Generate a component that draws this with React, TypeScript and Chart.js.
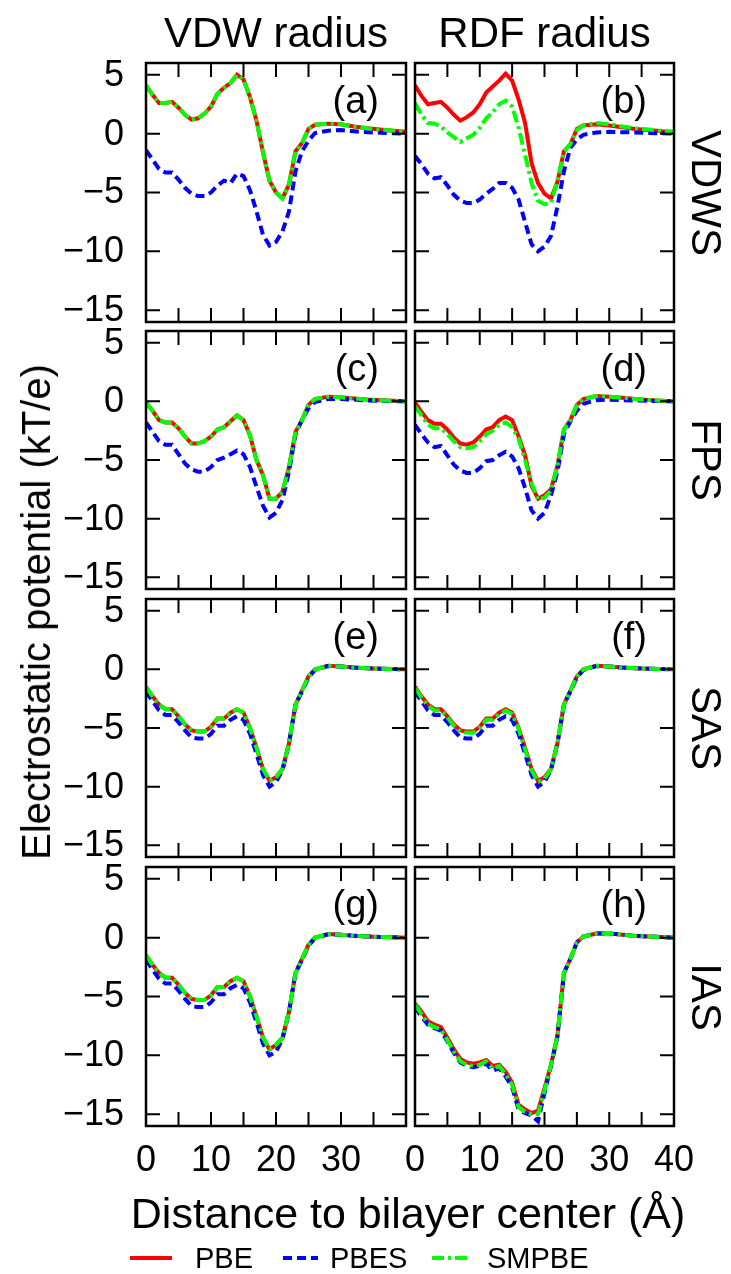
import React, { useEffect, useRef } from "react";
import { Chart, registerables } from "chart.js";

Chart.register(...registerables);

// ---------------- data ----------------
const X = [0, 1, 2, 3, 4, 5, 6, 7, 8, 9, 10, 11, 12, 13, 14, 15, 16, 17, 18, 19, 20, 21, 22, 23, 24, 25, 26, 28, 30, 32, 34, 36, 38, 40];

const A_PBE = [4.1, 3.3, 2.6, 2.6, 2.7, 2.2, 1.6, 1.2, 1.3, 1.7, 2.3, 3.4, 3.9, 4.3, 5.0, 4.6, 3.1, 1.1, -1.6, -4.0, -5.0, -5.5, -4.3, -1.5, -0.8, 0.4, 0.75, 0.85, 0.8, 0.6, 0.45, 0.35, 0.25, 0.15];
const A_PBES = [-1.4, -2.2, -3.0, -3.3, -3.3, -3.9, -4.6, -5.1, -5.3, -5.3, -5.0, -4.4, -4.0, -4.2, -3.4, -3.6, -4.8, -6.6, -8.6, -9.5, -9.2, -8.3, -6.6, -3.2, -1.5, -0.6, 0.05, 0.25, 0.3, 0.2, 0.12, 0.08, 0.04, 0.0];
const A_SMPBE = [4.1, 3.3, 2.6, 2.6, 2.7, 2.2, 1.6, 1.2, 1.3, 1.7, 2.3, 3.4, 3.9, 4.3, 5.0, 4.6, 3.1, 1.1, -1.6, -4.0, -5.0, -5.5, -4.3, -1.5, -0.8, 0.4, 0.75, 0.85, 0.8, 0.6, 0.45, 0.35, 0.25, 0.15];

const B_PBE = [4.1, 3.2, 2.5, 2.6, 2.7, 2.2, 1.6, 1.1, 1.4, 1.8, 2.5, 3.5, 4.0, 4.5, 5.1, 4.5, 2.9, 0.9, -2.5, -4.2, -5.1, -5.5, -4.1, -1.5, -0.9, 0.4, 0.7, 0.8, 0.7, 0.55, 0.4, 0.3, 0.2, 0.1];
const B_PBES = [-1.9, -2.6, -3.4, -3.8, -3.7, -4.4, -5.2, -5.7, -5.9, -5.9, -5.6, -5.1, -4.7, -4.2, -4.2, -4.6, -5.6, -7.5, -9.4, -10.0, -9.6, -8.7, -6.2, -3.2, -1.2, -0.5, -0.1, 0.1, 0.15, 0.12, 0.1, 0.06, 0.03, 0.0];
const B_SMPBE = [2.6, 1.6, 0.9, 0.85, 0.6, 0.1, -0.3, -0.7, -0.4, -0.1, 0.5, 1.3, 1.8, 2.5, 2.8, 2.3, 0.5, -1.8, -4.2, -5.7, -6.0, -5.9, -4.0, -1.5, -0.9, 0.3, 0.7, 0.9, 0.8, 0.6, 0.45, 0.35, 0.25, 0.15];

const C_PBE = [-0.1, -0.8, -1.6, -1.8, -1.8, -2.3, -3.0, -3.6, -3.6, -3.4, -3.0, -2.4, -2.2, -1.7, -1.2, -1.6, -2.9, -5.0, -6.3, -8.3, -8.3, -7.7, -5.6, -2.6, -1.6, -0.3, 0.2, 0.4, 0.35, 0.25, 0.15, 0.1, 0.05, 0.0];
const C_PBES = [-1.8, -2.6, -3.4, -3.7, -3.7, -4.5, -5.3, -5.8, -6.0, -6.0, -5.6, -5.0, -4.8, -4.5, -4.2, -4.5, -5.6, -7.3, -8.9, -9.9, -9.5, -8.4, -6.0, -2.8, -1.6, -0.6, -0.05, 0.2, 0.2, 0.15, 0.08, 0.05, 0.02, 0.0];
const C_SMPBE = [-0.1, -0.8, -1.6, -1.8, -1.8, -2.3, -3.0, -3.6, -3.6, -3.4, -3.0, -2.4, -2.2, -1.7, -1.2, -1.6, -2.9, -5.0, -6.3, -8.3, -8.3, -7.7, -5.6, -2.6, -1.6, -0.3, 0.2, 0.4, 0.35, 0.25, 0.15, 0.1, 0.05, 0.0];

const D_PBE = [-0.1, -0.9, -1.6, -1.9, -1.9, -2.4, -3.1, -3.6, -3.7, -3.5, -3.0, -2.4, -2.2, -1.6, -1.3, -1.6, -3.0, -4.6, -7.2, -8.3, -8.0, -7.5, -5.5, -2.4, -1.6, -0.3, 0.2, 0.45, 0.4, 0.3, 0.2, 0.12, 0.06, 0.0];
const D_PBES = [-2.0, -2.8, -3.5, -3.9, -3.8, -4.6, -5.4, -5.9, -6.1, -6.1, -5.7, -5.1, -5.0, -4.6, -4.3, -4.7, -5.7, -7.4, -9.3, -10.0, -9.5, -8.0, -6.0, -2.8, -1.7, -0.8, -0.2, 0.1, 0.15, 0.1, 0.08, 0.05, 0.02, 0.0];
const D_SMPBE = [-0.4, -1.2, -2.0, -2.3, -2.3, -2.8, -3.4, -3.9, -4.0, -3.9, -3.4, -2.8, -2.5, -2.0, -1.8, -2.2, -3.2, -5.0, -7.0, -8.4, -8.2, -7.6, -5.5, -2.4, -1.6, -0.3, 0.2, 0.45, 0.4, 0.3, 0.2, 0.12, 0.06, 0.0];

const E_PBE = [-1.5, -2.3, -3.0, -3.4, -3.4, -4.0, -4.7, -5.2, -5.3, -5.3, -4.9, -4.2, -4.2, -3.7, -3.4, -3.7, -5.0, -6.7, -8.5, -9.5, -9.2, -8.5, -6.3, -3.0, -1.8, -0.6, 0.0, 0.3, 0.25, 0.15, 0.1, 0.06, 0.03, 0.0];
const E_PBES = [-1.9, -2.7, -3.5, -3.9, -3.9, -4.5, -5.2, -5.8, -5.9, -5.9, -5.5, -4.8, -4.8, -4.3, -4.0, -4.3, -5.5, -7.2, -9.0, -10.0, -9.6, -8.6, -6.3, -3.0, -1.9, -0.7, -0.05, 0.28, 0.25, 0.15, 0.1, 0.06, 0.03, 0.0];
const E_SMPBE = [-1.5, -2.3, -3.0, -3.4, -3.4, -4.0, -4.7, -5.2, -5.3, -5.3, -4.9, -4.2, -4.2, -3.7, -3.4, -3.7, -5.0, -6.7, -8.5, -9.5, -9.2, -8.5, -6.3, -3.0, -1.8, -0.6, 0.0, 0.3, 0.25, 0.15, 0.1, 0.06, 0.03, 0.0];

const F_PBE = [-1.5, -2.3, -3.0, -3.4, -3.4, -4.0, -4.7, -5.2, -5.3, -5.3, -4.9, -4.2, -4.2, -3.7, -3.4, -3.7, -5.0, -6.7, -8.5, -9.5, -9.2, -8.5, -6.3, -3.0, -1.8, -0.6, 0.0, 0.3, 0.25, 0.15, 0.1, 0.06, 0.03, 0.0];
const F_PBES = [-1.9, -2.7, -3.5, -3.9, -3.9, -4.5, -5.2, -5.8, -5.9, -5.9, -5.5, -4.8, -4.8, -4.3, -4.0, -4.3, -5.5, -7.2, -9.0, -10.0, -9.6, -8.6, -6.3, -3.0, -1.9, -0.7, -0.05, 0.28, 0.25, 0.15, 0.1, 0.06, 0.03, 0.0];
const F_SMPBE = [-1.6, -2.4, -3.1, -3.5, -3.5, -4.1, -4.8, -5.3, -5.4, -5.4, -5.0, -4.3, -4.3, -3.8, -3.5, -3.8, -5.1, -6.8, -8.6, -9.6, -9.3, -8.5, -6.3, -3.0, -1.8, -0.6, 0.0, 0.3, 0.25, 0.15, 0.1, 0.06, 0.03, 0.0];

const G_PBE = [-1.5, -2.3, -3.0, -3.4, -3.4, -4.0, -4.7, -5.2, -5.3, -5.3, -4.9, -4.2, -4.2, -3.7, -3.4, -3.7, -5.0, -6.7, -8.5, -9.5, -9.1, -8.5, -6.3, -3.0, -1.8, -0.6, 0.0, 0.3, 0.25, 0.15, 0.1, 0.06, 0.03, 0.0];
const G_PBES = [-1.9, -2.7, -3.5, -3.9, -3.9, -4.5, -5.2, -5.8, -5.9, -5.9, -5.5, -4.8, -4.8, -4.3, -4.0, -4.3, -5.5, -7.2, -9.0, -10.0, -9.7, -8.6, -6.3, -3.0, -1.9, -0.7, -0.05, 0.28, 0.25, 0.15, 0.1, 0.06, 0.03, 0.0];
const G_SMPBE = [-1.5, -2.3, -3.0, -3.4, -3.4, -4.0, -4.7, -5.2, -5.3, -5.3, -4.9, -4.2, -4.2, -3.7, -3.4, -3.7, -5.0, -6.7, -8.5, -9.5, -9.1, -8.5, -6.3, -3.0, -1.8, -0.6, 0.0, 0.3, 0.25, 0.15, 0.1, 0.06, 0.03, 0.0];

const H_PBE = [-5.6, -6.3, -7.1, -7.4, -7.6, -8.5, -9.5, -10.3, -10.6, -10.7, -10.6, -10.4, -10.9, -10.8, -11.4, -12.3, -14.2, -14.6, -14.9, -14.7, -12.8, -10.8, -8.3, -3.0, -1.8, -0.4, 0.1, 0.35, 0.35, 0.25, 0.15, 0.1, 0.05, 0.0];
const H_PBES = [-5.9, -6.7, -7.4, -7.7, -7.9, -8.8, -9.8, -10.6, -10.9, -11.0, -10.9, -10.7, -11.3, -11.1, -11.8, -12.7, -14.6, -14.9, -15.1, -15.6, -13.2, -10.9, -8.4, -3.0, -1.8, -0.4, 0.1, 0.35, 0.35, 0.25, 0.15, 0.1, 0.05, 0.0];
const H_SMPBE = [-5.7, -6.5, -7.3, -7.6, -7.8, -8.7, -9.7, -10.5, -10.8, -10.9, -10.8, -10.5, -11.1, -10.9, -11.6, -12.5, -14.4, -14.8, -15.0, -15.0, -13.0, -10.8, -8.3, -3.0, -1.8, -0.4, 0.1, 0.35, 0.35, 0.25, 0.15, 0.1, 0.05, 0.0];

const SERIES_NAMES = ["PBE", "PBES", "SMPBE"];
const PANEL_TAGS = ["(a)", "(b)", "(c)", "(d)", "(e)", "(f)", "(g)", "(h)"];
const COL_TITLES = ["VDW radius", "RDF radius"];
const ROW_TITLES = ["VDWS", "FPS", "SAS", "IAS"];
const X_TITLE = "Distance to bilayer center (Å)";
const Y_TITLE = "Electrostatic potential (kT/e)";

const X_MIN = 0;
const X_MAX = 40;
const Y_MIN = -16;
const Y_MAX = 6;
const X_TICKS = [0, 5, 10, 15, 20, 25, 30, 35, 40];
const X_TICK_LABELS_LEFT = ["0", "", "10", "", "20", "", "30", "", ""];
const X_TICK_LABELS_RIGHT = ["0", "", "10", "", "20", "", "30", "", "40"];
const Y_TICKS = [-15, -10, -5, 0, 5];
const Y_TICK_LABELS = ["\u221215", "\u221210", "\u22125", "0", "5"];

// ---------------- styles / layout ----------------
const W = 731;
const H = 1274;
const FONT = '"Liberation Sans", Arial, Helvetica, sans-serif';
const COL_L = [146, 415];
const COL_R = [406, 674];
const ROW_T = [63, 331, 599, 867];
const ROW_B = [322, 589, 857, 1126];
const TICK_LEN = 14;
const TICK_FONT = 36;
const TAG_FONT = 38;
const TITLE_FONT = 42;
const LEGEND_FONT = 29;

const SERIES_STYLE = [
  { color: "#ff0000", dash: [] as number[], order: 3 },
  { color: "#0000ff", dash: [9, 5], order: 2 },
  { color: "#00ff00", dash: [12, 4, 3, 4], order: 1 },
];

// legend sample placement (line start, line end, text start)
const LEGEND_LINE_X0 = [130, 283, 432];
const LEGEND_LINE_X1 = [172, 318, 468];
const LEGEND_TEXT_X = [195, 330, 487];

const PANEL_DATA = [
  [A_PBE, A_PBES, A_SMPBE],
  [B_PBE, B_PBES, B_SMPBE],
  [C_PBE, C_PBES, C_SMPBE],
  [D_PBE, D_PBES, D_SMPBE],
  [E_PBE, E_PBES, E_SMPBE],
  [F_PBE, F_PBES, F_SMPBE],
  [G_PBE, G_PBES, G_SMPBE],
  [H_PBE, H_PBES, H_SMPBE],
];

function makeFramePlugin(col: number, row: number, tag: string) {
  return {
    id: "frame" + tag,
    afterDatasetsDraw(chart: any) {
      const { ctx, chartArea: a, scales } = chart;
      const xs = scales.x;
      const ys = scales.y;
      ctx.save();
      ctx.strokeStyle = "#000";
      ctx.lineWidth = 2;
      ctx.setLineDash([]);
      ctx.beginPath();
      X_TICKS.forEach((v) => {
        const px = xs.getPixelForValue(v);
        ctx.moveTo(px, a.bottom);
        ctx.lineTo(px, a.bottom - TICK_LEN);
        ctx.moveTo(px, a.top);
        ctx.lineTo(px, a.top + TICK_LEN);
      });
      Y_TICKS.forEach((v) => {
        const py = ys.getPixelForValue(v);
        ctx.moveTo(a.left, py);
        ctx.lineTo(a.left + TICK_LEN, py);
        ctx.moveTo(a.right, py);
        ctx.lineTo(a.right - TICK_LEN, py);
      });
      ctx.stroke();
      ctx.lineWidth = 2.5;
      ctx.strokeRect(a.left, a.top, a.right - a.left, a.bottom - a.top);

      ctx.fillStyle = "#000";
      ctx.font = `${TICK_FONT}px ${FONT}`;
      if (col === 0) {
        ctx.textAlign = "right";
        ctx.textBaseline = "middle";
        Y_TICKS.forEach((v, i) => {
          ctx.fillText(Y_TICK_LABELS[i], a.left - 22, ys.getPixelForValue(v) + 1);
        });
      }
      if (row === 3) {
        const labels = col === 0 ? X_TICK_LABELS_LEFT : X_TICK_LABELS_RIGHT;
        ctx.textAlign = "center";
        ctx.textBaseline = "middle";
        X_TICKS.forEach((v, i) => {
          if (labels[i]) ctx.fillText(labels[i], xs.getPixelForValue(v), a.bottom + 35);
        });
      }
      ctx.font = `${TAG_FONT}px ${FONT}`;
      ctx.textAlign = "right";
      ctx.textBaseline = "middle";
      ctx.fillText(tag, a.right - 27, a.top + 40);
      ctx.restore();
    },
  };
}

function Panel({ index }: { index: number }) {
  const ref = useRef<HTMLCanvasElement | null>(null);
  const col = index % 2;
  const row = Math.floor(index / 2);
  useEffect(() => {
    if (!ref.current) return;
    const series = PANEL_DATA[index];
    const chart = new Chart(ref.current, {
      type: "line",
      data: {
        datasets: series.map((vals, s) => ({
          label: SERIES_NAMES[s],
          data: X.map((x, i) => ({ x, y: vals[i] })),
          borderColor: SERIES_STYLE[s].color,
          backgroundColor: SERIES_STYLE[s].color,
          borderDash: SERIES_STYLE[s].dash,
          borderWidth: 4,
          pointRadius: 0,
          tension: 0,
          fill: false,
          order: SERIES_STYLE[s].order,
          borderJoinStyle: "miter" as const,
        })),
      },
      options: {
        animation: false,
        responsive: false,
        maintainAspectRatio: false,
        devicePixelRatio: 1,
        events: [],
        layout: {
          padding: {
            left: COL_L[col],
            right: W - COL_R[col],
            top: ROW_T[row],
            bottom: H - ROW_B[row],
          },
        },
        plugins: {
          legend: { display: false },
          tooltip: { enabled: false },
        },
        scales: {
          x: { type: "linear", min: X_MIN, max: X_MAX, display: false },
          y: { type: "linear", min: Y_MIN, max: Y_MAX, display: false },
        },
      },
      plugins: [makeFramePlugin(col, row, PANEL_TAGS[index])],
    });
    return () => chart.destroy();
  }, [index]);
  return (
    <canvas
      ref={ref}
      width={W}
      height={H}
      style={{ position: "absolute", left: 0, top: 0, width: W, height: H }}
    />
  );
}

const textBase: React.CSSProperties = {
  position: "absolute",
  whiteSpace: "nowrap",
  lineHeight: 1,
  color: "#000",
  fontFamily: FONT,
};

export default function App() {
  return (
    <div
      style={{
        position: "absolute",
        left: 0,
        top: 0,
        width: W,
        height: H,
        background: "#fff",
        overflow: "hidden",
        fontFamily: FONT,
      }}
    >
      {PANEL_TAGS.map((t, i) => (
        <Panel key={t} index={i} />
      ))}
      {COL_TITLES.map((t, c) => (
        <div
          key={t}
          style={{
            ...textBase,
            fontSize: TITLE_FONT,
            left: (COL_L[c] + COL_R[c]) / 2,
            top: 33,
            transform: "translate(-50%, -50%)",
          }}
        >
          {t}
        </div>
      ))}
      {ROW_TITLES.map((t, r) => (
        <div
          key={t}
          style={{
            ...textBase,
            fontSize: TITLE_FONT,
            left: 706,
            top: (ROW_T[r] + ROW_B[r]) / 2,
            transform: "translate(-50%, -50%) rotate(90deg)",
          }}
        >
          {t}
        </div>
      ))}
      <div
        style={{
          ...textBase,
          fontSize: 40,
          left: 36,
          top: 612,
          transform: "translate(-50%, -50%) rotate(-90deg)",
        }}
      >
        {Y_TITLE}
      </div>
      <div
        style={{
          ...textBase,
          fontSize: 43,
          left: 408,
          top: 1213,
          transform: "translate(-50%, -50%)",
        }}
      >
        {X_TITLE}
      </div>
      <svg
        width={W}
        height={40}
        style={{ position: "absolute", left: 0, top: 1238 }}
      >
        {SERIES_NAMES.map((name, s) => (
          <line
            key={name}
            x1={LEGEND_LINE_X0[s]}
            y1={20}
            x2={LEGEND_LINE_X1[s]}
            y2={20}
            stroke={SERIES_STYLE[s].color}
            strokeWidth={4}
            strokeDasharray={SERIES_STYLE[s].dash.length ? SERIES_STYLE[s].dash.join(" ") : undefined}
          />
        ))}
      </svg>
      {SERIES_NAMES.map((name, s) => (
        <div
          key={name}
          style={{
            ...textBase,
            fontSize: LEGEND_FONT,
            left: LEGEND_TEXT_X[s],
            top: 1258,
            transform: "translateY(-50%)",
          }}
        >
          {name}
        </div>
      ))}
    </div>
  );
}
